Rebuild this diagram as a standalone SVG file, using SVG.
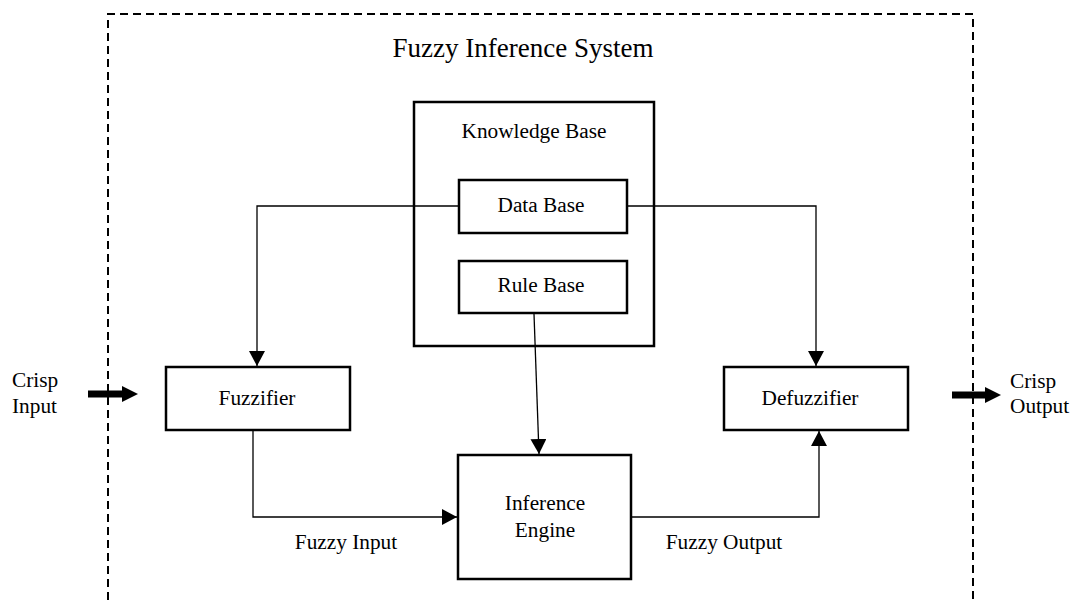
<svg xmlns="http://www.w3.org/2000/svg" width="1075" height="602" viewBox="0 0 1075 602">
<style>
text{font-family:"Liberation Serif","Times New Roman",serif;font-size:21.3px;fill:#000}
.box{fill:#fff;stroke:#000;stroke-width:2.5}
.c{fill:none;stroke:#000;stroke-width:1.3}
.m{text-anchor:middle}
</style>
<defs>
<marker id="ah" markerUnits="userSpaceOnUse" markerWidth="16" markerHeight="16" viewBox="0 0 16 16" refX="15" refY="8" orient="auto">
<path d="M0,0 L15,8 L0,16 Z" fill="#000"/>
</marker>
</defs>
<g id="system">
<path d="M108,600 L108,14 L973,14 L973,600" fill="none" stroke="#000" stroke-width="2" stroke-dasharray="8 5"/>
<text class="m" x="523" y="57" style="font-size:27px">Fuzzy Inference System</text>
</g>
<g id="knowledge-base">
<rect class="box" x="414" y="102" width="240" height="244"/>
<text class="m" x="534" y="138">Knowledge Base</text>
</g>
<g id="data-base">
<rect class="box" x="459" y="180" width="168" height="53"/>
<text class="m" x="541" y="212">Data Base</text>
</g>
<g id="rule-base">
<rect class="box" x="459" y="261" width="168" height="52"/>
<text class="m" x="541" y="292">Rule Base</text>
</g>
<g id="fuzzifier">
<rect class="box" x="166" y="367" width="184" height="63"/>
<text class="m" x="257" y="405">Fuzzifier</text>
</g>
<g id="defuzzifier">
<rect class="box" x="724" y="367" width="184" height="63"/>
<text class="m" x="810" y="405">Defuzzifier</text>
</g>
<g id="inference-engine">
<rect class="box" x="458" y="455" width="173" height="124"/>
<text class="m" x="545" y="510">Inference</text>
<text class="m" x="545" y="537">Engine</text>
</g>
<g id="connectors">
<path class="c" d="M458,206 L257,206 L257,366" marker-end="url(#ah)"/>
<path class="c" d="M628,206 L816,206 L816,366" marker-end="url(#ah)"/>
<path class="c" d="M534,314 L539,454" marker-end="url(#ah)"/>
<path class="c" d="M253,431 L253,517 L457,517" marker-end="url(#ah)"/>
<path class="c" d="M632,517 L819,517 L819,431" marker-end="url(#ah)"/>
<path d="M88,394 L124,394" stroke="#000" stroke-width="7"/>
<path d="M122,386 L138,394 L122,402 Z" fill="#000"/>
<path d="M952,395 L987,395" stroke="#000" stroke-width="7"/>
<path d="M985,387 L1001,395 L985,403 Z" fill="#000"/>
</g>
<g id="labels">
<text x="12" y="387">Crisp</text>
<text x="12" y="413">Input</text>
<text x="1010" y="388">Crisp</text>
<text x="1010" y="413">Output</text>
<text class="m" x="346" y="549">Fuzzy Input</text>
<text class="m" x="724" y="549">Fuzzy Output</text>
</g>
</svg>
